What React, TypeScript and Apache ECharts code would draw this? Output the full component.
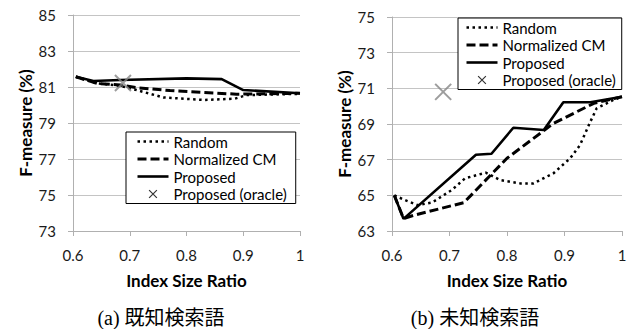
import React, { useEffect, useRef } from 'react';
import * as echarts from 'echarts';

// ---- data ----
const seriesNames = ['Random', 'Normalized CM', 'Proposed', 'Proposed (oracle)'];
const captions = ['(a) 既知検索語', '(b) 未知検索語'];
const xName = 'Index Size Ratio';
const yName = 'F-measure (%)';

// left chart (a): known queries
const leftYMin = 73;
const leftYMax = 85;
const leftRandom = [
  [0.605, 81.57], [0.64, 81.22], [0.683, 81.06], [0.712, 80.83], [0.759, 80.42],
  [0.83, 80.28], [0.885, 80.35], [0.906, 80.55], [1.0, 80.62],
];
const leftNormCM = [
  [0.605, 81.57], [0.642, 81.2], [0.683, 81.11], [0.712, 80.96], [0.771, 80.8],
  [0.888, 80.6], [1.0, 80.65],
];
const leftProposed = [
  [0.605, 81.57], [0.636, 81.33], [0.683, 81.39], [0.8, 81.48], [0.862, 81.44],
  [0.9, 80.83], [1.0, 80.65],
];
const leftOracle = [[0.688, 81.22]];

// right chart (b): unknown queries
const rightYMin = 63;
const rightYMax = 75;
const rightRandom = [
  [0.604, 65.0], [0.625, 64.7], [0.645, 64.45], [0.67, 64.6], [0.704, 65.3],
  [0.727, 65.95], [0.763, 66.27], [0.788, 65.86], [0.823, 65.67], [0.846, 65.67],
  [0.881, 66.24], [0.91, 67.08], [0.927, 67.82], [0.945, 69.13], [0.956, 69.88],
  [0.985, 70.35], [1.0, 70.53],
];
const rightNormCM = [
  [0.604, 65.0], [0.62, 63.7], [0.64, 63.9], [0.725, 64.59], [0.8, 67.08],
  [0.881, 69.04], [0.951, 70.16], [1.0, 70.53],
];
const rightProposed = [
  [0.604, 65.0], [0.62, 63.68], [0.746, 67.28], [0.773, 67.33], [0.811, 68.79],
  [0.864, 68.66], [0.898, 70.22], [0.945, 70.22], [1.0, 70.53],
];
const rightOracle = [[0.689, 70.8]];

const FONT = 'Lato, "Noto Sans", sans-serif';
const GRID_GRAY = '#c4c4c4';
const AXIS_GRAY = '#b0b0b0';

const oracleSymbol = 'path://M0,0L10,10M10,0L0,10';
const oracleLegendIcon = 'path://M-4,-4M0,0L10,10M10,0L0,10M14,14';

function makeX(gridIndex: number) {
  return {
    type: 'value',
    gridIndex,
    min: 0.6,
    max: 1,
    interval: 0.1,
    name: xName,
    nameLocation: 'middle',
    nameGap: 41,
    nameTextStyle: { fontFamily: FONT, fontWeight: 'bold', fontSize: 17, color: '#000' },
    axisLine: { show: true, lineStyle: { color: AXIS_GRAY, width: 1 } },
    axisTick: { show: true, length: 5, lineStyle: { color: AXIS_GRAY } },
    splitLine: { show: false },
    axisLabel: {
      fontFamily: FONT,
      fontSize: 15,
      color: '#1a1a1a',
      margin: 16,
      formatter: (v: number) => String(+v.toFixed(1)),
    },
  };
}

function makeY(gridIndex: number, min: number, max: number) {
  return {
    type: 'value',
    gridIndex,
    min,
    max,
    interval: 2,
    name: yName,
    nameLocation: 'middle',
    nameGap: 39,
    nameTextStyle: { fontFamily: FONT, fontWeight: 'bold', fontSize: 17, color: '#000' },
    axisLine: { show: true, lineStyle: { color: AXIS_GRAY, width: 1 } },
    axisTick: { show: true, length: 5, lineStyle: { color: AXIS_GRAY } },
    splitLine: { show: true, lineStyle: { color: GRID_GRAY, width: 1 } },
    axisLabel: { fontFamily: FONT, fontSize: 15, color: '#1a1a1a', margin: 17 },
  };
}

function lineSeries(name: string, idx: number, data: number[][], style: any) {
  return {
    name,
    type: 'line',
    xAxisIndex: idx,
    yAxisIndex: idx,
    data,
    symbol: 'none',
    showSymbol: false,
    lineStyle: { color: '#000', ...style },
    itemStyle: { color: '#000' },
    z: 3,
  };
}

const randomStyle = { width: 2.5, type: [2.5, 3.5] };
const normStyle = { width: 3, type: [9, 4] };
const propStyle = { width: 2.6, type: 'solid' };

function oracleSeries(idx: number, data: number[][]) {
  return {
    name: seriesNames[3],
    type: 'scatter',
    xAxisIndex: idx,
    yAxisIndex: idx,
    data,
    symbol: oracleSymbol,
    symbolSize: 16,
    symbolKeepAspect: true,
    itemStyle: { color: 'transparent', borderColor: '#858585', borderWidth: 2 },
    z: 4,
  };
}

const hiddenSymbol = { color: 'rgba(0,0,0,0)', borderColor: 'rgba(0,0,0,0)', borderWidth: 0 };

function makeLegend(left: number, top: number, padding: number[]) {
  return {
    left,
    top,
    orient: 'vertical',
    selectedMode: false,
    itemWidth: 31,
    itemHeight: 14,
    itemGap: 0.5,
    padding,
    borderColor: '#000',
    borderWidth: 1,
    borderRadius: 0,
    backgroundColor: '#fff',
    lineStyle: { width: 'inherit', type: 'inherit' },
    textStyle: { fontFamily: FONT, fontSize: 15, lineHeight: 17, color: '#000' },
    data: [
      { name: seriesNames[0], itemStyle: hiddenSymbol },
      { name: seriesNames[1], itemStyle: hiddenSymbol },
      { name: seriesNames[2], itemStyle: hiddenSymbol },
      {
        name: seriesNames[3],
        icon: oracleLegendIcon,
        itemStyle: { color: 'transparent', borderColor: '#000', borderWidth: 1.2 },
      },
    ],
  };
}

export default function App() {
  const ref = useRef<HTMLDivElement>(null);
  useEffect(() => {
    document.body.style.margin = '0';
    const chart = echarts.init(ref.current!, null, { renderer: 'svg' });
    const captionFont = '"Liberation Serif", "Noto Sans CJK JP", serif';
    const option: any = {
      animation: false,
      backgroundColor: '#fff',
      grid: [
        { left: 73, top: 15, width: 227, height: 216 },
        { left: 392, top: 17, width: 230, height: 214 },
      ],
      xAxis: [makeX(0), makeX(1)],
      yAxis: [makeY(0, leftYMin, leftYMax), makeY(1, rightYMin, rightYMax)],
      legend: [makeLegend(126, 132, [1, 9, 1, 10]), makeLegend(458, 18, [1, 6, 1, 7])],
      series: [
        lineSeries(seriesNames[0], 0, leftRandom, randomStyle),
        lineSeries(seriesNames[1], 0, leftNormCM, normStyle),
        lineSeries(seriesNames[2], 0, leftProposed, propStyle),
        oracleSeries(0, leftOracle),
        lineSeries(seriesNames[0], 1, rightRandom, randomStyle),
        lineSeries(seriesNames[1], 1, rightNormCM, normStyle),
        lineSeries(seriesNames[2], 1, rightProposed, propStyle),
        oracleSeries(1, rightOracle),
      ],
      graphic: [
        {
          type: 'text',
          x: 161,
          y: 318,
          style: {
            text: captions[0],
            fontSize: 20,
            fontFamily: captionFont,
            fill: '#000',
            align: 'center',
            verticalAlign: 'middle',
          },
        },
        {
          type: 'text',
          x: 475,
          y: 318,
          style: {
            text: captions[1],
            fontSize: 20,
            fontFamily: captionFont,
            fill: '#000',
            align: 'center',
            verticalAlign: 'middle',
          },
        },
      ],
    };
    chart.setOption(option);
    return () => chart.dispose();
  }, []);
  return <div ref={ref} style={{ width: 636, height: 329 }} />;
}
